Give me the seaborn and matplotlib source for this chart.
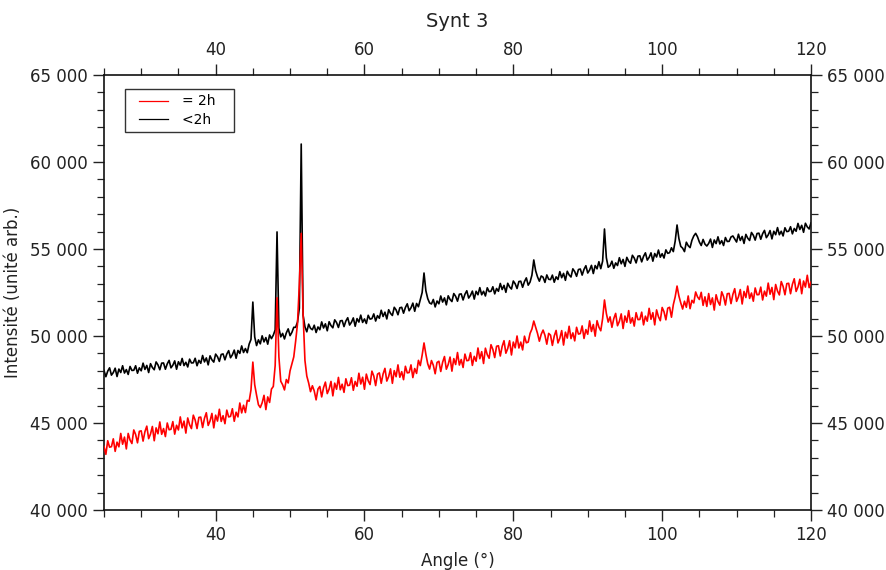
import numpy as np
import pandas as pd
import matplotlib
matplotlib.use("Agg")
import matplotlib.pyplot as plt
import seaborn as sns
from matplotlib.ticker import FuncFormatter, MultipleLocator
from matplotlib.lines import Line2D
from matplotlib.legend_handler import HandlerLine2D

# ---------------- data ----------------
angle = np.arange(25.0, 120.001, 0.25)  # measurement grid, degrees

# "<2h" (black) intensities, 4 readings per degree starting at 25.00
black_lt2h = [
    48020, 47660, 47980, 48170,  # 25
    47750, 47900, 48150, 47670,  # 26
    48100, 47900, 48290, 47870,  # 27
    48070, 47790, 48250, 48020,  # 28
    48030, 48290, 47860, 48170,  # 29
    48000, 48440, 48080, 48310,  # 30
    47900, 48410, 48190, 48060,  # 31
    48510, 48340, 48060, 48440,  # 32
    48450, 48090, 48400, 48600,  # 33
    48170, 48320, 48570, 48090,  # 34
    48520, 48320, 48710, 48300,  # 35
    48490, 48220, 48670, 48450,  # 36
    48460, 48720, 48290, 48600,  # 37
    48430, 48880, 48510, 48740,  # 38
    48340, 48860, 48630, 48500,  # 39
    48960, 48810, 48540, 48940,  # 40
    48970, 48630, 48960, 49160,  # 41
    48750, 48920, 49190, 48720,  # 42
    49170, 49000, 49430, 49050,  # 43
    49280, 49040, 49530, 49800,  # 44
    51950, 49950, 49450, 49780,  # 45
    49550, 50010, 49660, 49910,  # 46
    49530, 50060, 49850, 50050,  # 47
    50350, 55980, 50450, 49950,  # 48
    50150, 49830, 50180, 50410,  # 49
    50020, 50210, 50500, 50500,  # 50
    50800, 51600, 61030, 51200,  # 51
    50530, 50240, 50680, 50440,  # 52
    50360, 50620, 50200, 50520,  # 53
    50360, 50810, 50460, 50700,  # 54
    50300, 50820, 50600, 50470,  # 55
    50930, 50770, 50490, 50870,  # 56
    50890, 50540, 50860, 51050,  # 57
    50630, 50790, 51040, 50560,  # 58
    51000, 50800, 51200, 50780,  # 59
    50980, 50720, 51190, 50970,  # 60
    51000, 51270, 50860, 51170,  # 61
    51020, 51480, 51120, 51370,  # 62
    50980, 51510, 51300, 51180,  # 63
    51650, 51500, 51220, 51620,  # 64
    51650, 51310, 51640, 51850,  # 65
    51450, 51620, 51890, 51420,  # 66
    51870, 51680, 52100, 52500,  # 67
    53620, 52600, 52150, 51900,  # 68
    51840, 52100, 51670, 52010,  # 69
    51850, 52300, 51950, 52190,  # 70
    51790, 52310, 52100, 51980,  # 71
    52440, 52280, 52000, 52400,  # 72
    52420, 52070, 52400, 52600,  # 73
    52180, 52340, 52580, 52120,  # 74
    52570, 52370, 52780, 52370,  # 75
    52570, 52300, 52770, 52550,  # 76
    52570, 52830, 52420, 52730,  # 77
    52570, 53020, 52670, 52910,  # 78
    52510, 53030, 52820, 52700,  # 79
    53160, 53000, 52730, 53130,  # 80
    53150, 52800, 53130, 53340,  # 81
    52920, 53100, 53500, 54370,  # 82
    53750, 53400, 53150, 53450,  # 83
    53380, 53080, 53510, 53260,  # 84
    53240, 53500, 53090, 53400,  # 85
    53250, 53700, 53350, 53600,  # 86
    53200, 53720, 53510, 53390,  # 87
    53860, 53700, 53430, 53820,  # 88
    53850, 53500, 53830, 54040,  # 89
    53620, 53790, 54060, 53590,  # 90
    54050, 53860, 54270, 53870,  # 91
    54300, 56150, 54500, 53950,  # 92
    54040, 54300, 53890, 54200,  # 93
    54050, 54500, 54150, 54400,  # 94
    54000, 54520, 54300, 54180,  # 95
    54640, 54480, 54200, 54590,  # 96
    54610, 54260, 54580, 54780,  # 97
    54360, 54520, 54780, 54300,  # 98
    54740, 54540, 54940, 54530,  # 99
    54730, 54480, 54950, 54750,  # 100
    54790, 55070, 54850, 55450,  # 101
    56380, 55600, 55150, 55050,  # 102
    54850, 55390, 55190, 55080,  # 103
    55500, 55750, 55900, 55700,  # 104
    55400, 55200, 55550, 55280,  # 105
    55170, 55320, 55570, 55090,  # 106
    55520, 55310, 55700, 55290,  # 107
    55480, 55200, 55660, 55430,  # 108
    55440, 55690, 55750, 55570,  # 109
    55400, 55850, 55490, 55720,  # 110
    55320, 55840, 55620, 55490,  # 111
    55950, 55790, 55510, 55890,  # 112
    55910, 55560, 55880, 56070,  # 113
    55650, 55810, 56060, 55580,  # 114
    56020, 55820, 56230, 55820,  # 115
    56020, 55750, 56220, 56000,  # 116
    56020, 56280, 55870, 56180,  # 117
    56020, 56470, 56120, 56360,  # 118
    55960, 56480, 56270, 56150,  # 119
    56500,                       # 120
]

# "= 2h" (red) intensities, 4 readings per degree starting at 25.00
red_eq2h = [
    43650, 43200, 43980, 43610,  # 25
    43640, 44090, 43370, 43900,  # 26
    43630, 44400, 43780, 44190,  # 27
    43510, 44400, 44020, 43820,  # 28
    44600, 44340, 43860, 44520,  # 29
    44550, 43960, 44500, 44820,  # 30
    44100, 44370, 44800, 43980,  # 31
    44720, 44380, 45060, 44350,  # 32
    44680, 44220, 45000, 44610,  # 33
    44640, 45080, 44360, 44870,  # 34
    44600, 45350, 44720, 45110,  # 35
    44420, 45290, 44900, 44680,  # 36
    45450, 45170, 44680, 45320,  # 37
    45340, 44740, 45270, 45590,  # 38
    44860, 45120, 45550, 44720,  # 39
    45450, 45110, 45790, 45090,  # 40
    45420, 44960, 45740, 45350,  # 41
    45380, 45820, 45100, 45620,  # 42
    45350, 46150, 45580, 46020,  # 43
    45600, 46300, 46250, 46900,  # 44
    48500, 47200, 46600, 46050,  # 45
    45890, 46160, 46590, 45770,  # 46
    46500, 46180, 46950, 47100,  # 47
    48300, 52200, 48800, 47400,  # 48
    47200, 46900, 47500, 47300,  # 49
    48000, 48400, 48800, 49700,  # 50
    50700, 53000, 55900, 51300,  # 51
    48600, 47700, 47300, 46800,  # 52
    47140, 46840, 46330, 46950,  # 53
    47100, 46500, 47030, 47350,  # 54
    46690, 46950, 47390, 46560,  # 55
    47290, 46940, 47620, 46910,  # 56
    47230, 46760, 47540, 47150,  # 57
    47170, 47600, 46880, 47390,  # 58
    47110, 47860, 47240, 47630,  # 59
    46940, 47810, 47430, 47210,  # 60
    47980, 47700, 47150, 47810,  # 61
    47880, 47280, 47820, 48140,  # 62
    47410, 47670, 48110, 47280,  # 63
    48010, 47660, 48340, 47630,  # 64
    47950, 47490, 48260, 47880,  # 65
    47900, 48340, 47610, 48130,  # 66
    47850, 48600, 48300, 48900,  # 67
    49600, 48950, 48400, 48100,  # 68
    48590, 48320, 47830, 48480,  # 69
    48550, 47960, 48490, 48820,  # 70
    48090, 48360, 48790, 47980,  # 71
    48700, 48360, 49050, 48330,  # 72
    48650, 48190, 48960, 48580,  # 73
    48600, 49040, 48310, 48830,  # 74
    48550, 49310, 48695, 49100,  # 75
    48420, 49300, 48925, 48720,  # 76
    49500, 49230, 48760, 49410,  # 77
    49440, 48850, 49400, 49730,  # 78
    49010, 49280, 49730, 48910,  # 79
    49650, 49320, 50000, 49310,  # 80
    49650, 49200, 49990, 49610,  # 81
    49650, 50150, 50400, 50860,  # 82
    50500, 50150, 49700, 50100,  # 83
    50340, 50040, 49530, 50150,  # 84
    50050, 49460, 50000, 50320,  # 85
    49600, 49870, 50310, 49480,  # 86
    50220, 49880, 50560, 49850,  # 87
    50180, 49720, 50500, 50110,  # 88
    50140, 50580, 49860, 50370,  # 89
    50100, 50870, 50260, 50660,  # 90
    49990, 50880, 50510, 50300,  # 91
    51000, 52070, 51300, 50800,  # 92
    51100, 50500, 51000, 51300,  # 93
    50590, 50840, 51270, 50430,  # 94
    51150, 50790, 51460, 50740,  # 95
    51050, 50570, 51340, 50940,  # 96
    50950, 51370, 50640, 51140,  # 97
    50850, 51590, 50960, 51340,  # 98
    50640, 51500, 51110, 50880,  # 99
    51640, 51390, 50930, 51600,  # 100
    51650, 51080, 51800, 52250,  # 101
    52870, 52300, 51900, 51550,  # 102
    52000, 51650, 52300, 51570,  # 103
    52050, 51900, 52530, 52250,  # 104
    52100, 52510, 51760, 52250,  # 105
    51700, 52440, 51810, 52190,  # 106
    51490, 52370, 51980, 51770,  # 107
    52540, 52270, 51780, 52430,  # 108
    52450, 51860, 52390, 52720,  # 109
    51990, 52250, 52670, 51840,  # 110
    52560, 52210, 52870, 52160,  # 111
    52470, 52000, 52760, 52370,  # 112
    52380, 52810, 52070, 52580,  # 113
    52290, 53040, 52400, 52790,  # 114
    52090, 52960, 52580, 52360,  # 115
    53130, 52850, 52370, 53010,  # 116
    53030, 52430, 52970, 53290,  # 117
    52560, 52820, 53260, 52430,  # 118
    53160, 52810, 53490, 52780,  # 119
    53100,                       # 120
]

series_labels = ["= 2h", "<2h"]
series_colors = ["#ff0000", "#000000"]
x_ticks = [40, 60, 80, 100, 120]
y_ticks = [40000, 45000, 50000, 55000, 60000, 65000]

df = pd.concat([
    pd.DataFrame({"Angle": angle, "I": red_eq2h, "serie": series_labels[0]}),
    pd.DataFrame({"Angle": angle, "I": black_lt2h, "serie": series_labels[1]}),
])

# ---------------- figure ----------------
plt.rcParams["font.family"] = ["DejaVu Sans"]
fig = plt.figure(figsize=(8.87, 5.70), dpi=100)
ax = fig.add_axes([104 / 887, 1 - 510 / 570, 707 / 887, 435 / 570])

for lab, col, z in zip(series_labels, series_colors, [3, 2]):
    sub = df[df["serie"] == lab]
    sns.lineplot(data=sub, x="Angle", y="I", ax=ax, color=col, lw=1.2,
                 estimator=None, sort=False, label=lab, zorder=z)

ax.set_xlim(25, 120)
ax.set_ylim(40000, 65000)
ax.set_xticks(x_ticks)
ax.set_yticks(y_ticks)
ax.xaxis.set_minor_locator(MultipleLocator(5))
ax.yaxis.set_minor_locator(MultipleLocator(1000))
ax.yaxis.set_major_formatter(FuncFormatter(lambda v, p: f"{int(v):,}".replace(",", " ")))

ax.tick_params(which="both", direction="out", top=True, right=True,
               labeltop=True, labelright=True, labelsize=12, colors="#222222",
               labelcolor="#222222")
ax.tick_params(which="major", length=8, width=1)
ax.tick_params(which="minor", length=5, width=0.9)
for s in ax.spines.values():
    s.set_linewidth(1.2)
    s.set_color("#111111")

ax.set_xlabel("Angle (°)", fontsize=12, color="#222222", labelpad=6)
ax.set_ylabel("Intensité (unité arb.)", fontsize=12, color="#222222", labelpad=6)
ax.set_title("Synt 3", fontsize=14, color="#222222", pad=10)

handles, labels = ax.get_legend_handles_labels()
leg = ax.legend(handles, [l + "   " for l in labels],
                loc="upper left", bbox_to_anchor=(0.03, 0.968), borderaxespad=0,
                fancybox=False, framealpha=1, edgecolor="#333333", fontsize=10,
                handlelength=2.7, handletextpad=1.0, borderpad=0.4, labelspacing=0.3,
                handler_map={Line2D: HandlerLine2D(xpad=0.6)})
leg.get_frame().set_linewidth(1.0)
for h in leg.get_lines():
    h.set_linewidth(0.9)

fig.savefig("out.png", dpi=100)
